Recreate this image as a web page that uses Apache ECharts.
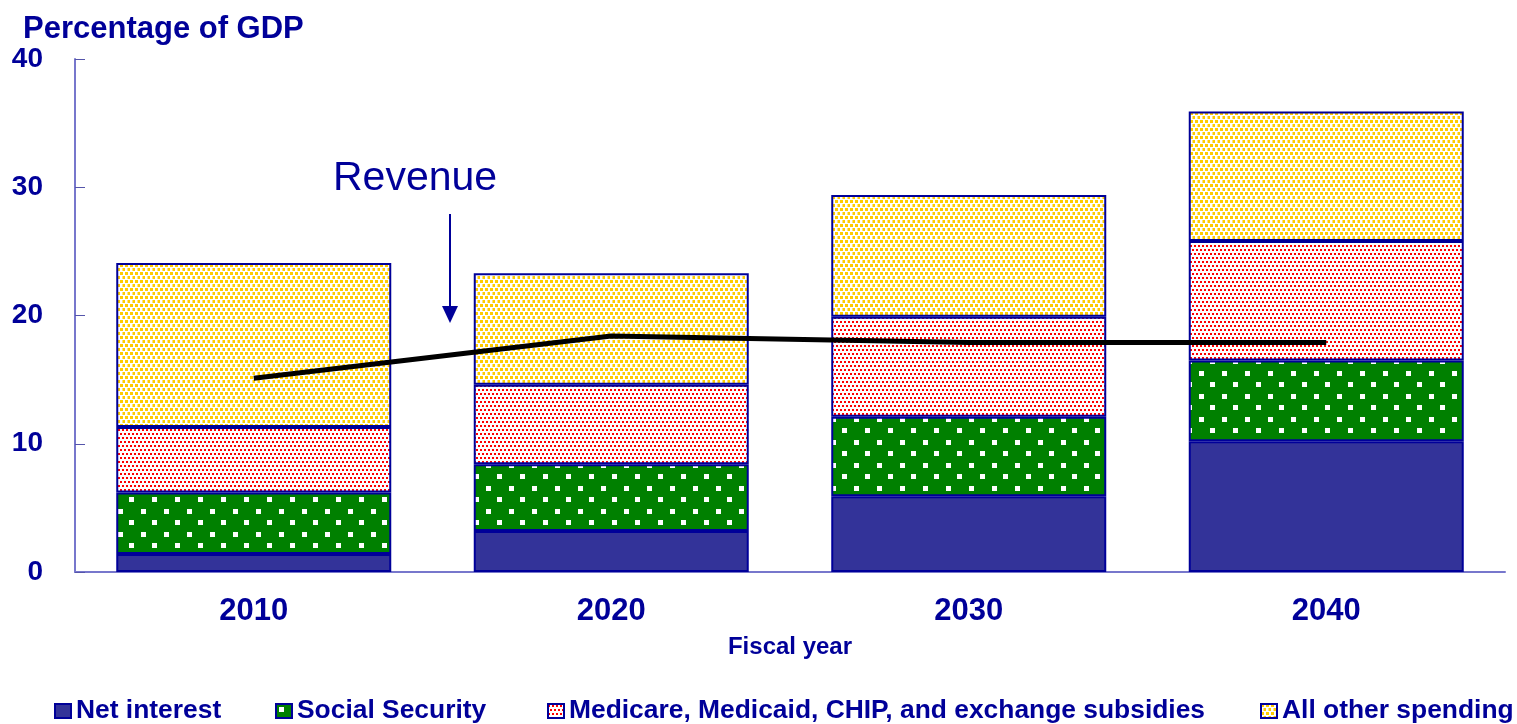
<!DOCTYPE html>
<html>
<head>
<meta charset="utf-8">
<script src="https://cdn.jsdelivr.net/npm/echarts@6/dist/echarts.min.js"></script>
<style>
  html, body { margin: 0; padding: 0; background: #fff; }
  #chart { width: 1517px; height: 724px; }
</style>
</head>
<body>
<div id="chart"></div>
<script>
const years = ['2010', '2020', '2030', '2040']
const netInterest = [1.4, 3.2, 5.9, 10.2]
const socialSecurity = [4.8, 5.2, 6.2, 6.3]
const healthCare = [5.1, 6.2, 7.8, 9.3]
const otherSpending = [12.8, 8.7, 9.5, 10.1]
const revenue = [15.1, 18.4, 17.9, 17.9]
const yTicks = [0, 10, 20, 30, 40]

const NAVY = '#000099'
const FONT = '"Liberation Sans", Arial, sans-serif'

// small canvas tiles used as repeating fills
function tile(w, h, bg, fg, dots, size) {
  const c = document.createElement('canvas')
  c.width = w
  c.height = h
  const ctx = c.getContext('2d')
  ctx.fillStyle = bg
  ctx.fillRect(0, 0, w, h)
  ctx.fillStyle = fg
  dots.forEach(([x, y]) => ctx.fillRect(x, y, size, size))
  return { image: c, repeat: 'repeat' }
}

const greenFill = tile(23, 23, '#008000', '#ffffff', [[3, 3], [14, 14]], 5)
const redFill = tile(4, 8, '#ffffff', '#ff0000', [[0, 1], [2, 5]], 2)
const yellowFill = tile(5, 8, '#ffffff', '#ffcc00', [[0, 0], [2.5, 4]], 3)

const chart = echarts.init(document.getElementById('chart'))

function barSeries(name, data, color) {
  return {
    name,
    type: 'bar',
    stack: 'spend',
    barWidth: 275,
    data,
    itemStyle: { color, borderColor: NAVY, borderWidth: 2 },
    emphasis: { disabled: true },
  }
}

const legendText = { color: NAVY, fontSize: 26.4, fontWeight: 'bold', fontFamily: FONT }
function legendAt(name, left) {
  return {
    data: [name],
    left,
    top: 698,
    padding: 0,
    itemWidth: 16,
    itemHeight: 14,
    icon: 'rect',
    textStyle: legendText,
    selectedMode: false,
  }
}

chart.setOption({
  backgroundColor: '#fff',
  animation: false,
  title: {
    text: 'Percentage of GDP',
    left: 18,
    top: 9,
    textStyle: { color: NAVY, fontSize: 31, fontWeight: 'bold', fontFamily: FONT },
  },
  legend: [
    legendAt('Net interest', 54),
    legendAt('Social Security', 275),
    legendAt('Medicare, Medicaid, CHIP, and exchange subsidies', 547),
    legendAt('All other spending', 1260),
  ],
  grid: { left: 75, right: 12, top: 59, bottom: 152 },
  xAxis: {
    type: 'category',
    data: years,
    name: 'Fiscal year',
    nameLocation: 'middle',
    nameGap: 63,
    nameTextStyle: { color: NAVY, fontSize: 24, fontWeight: 'bold', fontFamily: FONT },
    axisLine: { lineStyle: { color: '#7777cc', width: 2 } },
    axisTick: { inside: true, length: 10, interval: 0, lineStyle: { color: '#5555aa' } },
    axisLabel: { color: NAVY, fontSize: 31, fontWeight: 'bold', fontFamily: FONT, margin: 24 },
  },
  yAxis: {
    type: 'value',
    min: yTicks[0],
    max: yTicks[yTicks.length - 1],
    interval: 10,
    splitLine: { show: false },
    axisLine: { show: true, lineStyle: { color: '#7777cc', width: 2 } },
    axisTick: { show: true, inside: true, length: 10, lineStyle: { color: '#5555aa' } },
    axisLabel: { color: NAVY, fontSize: 28, fontWeight: 'bold', fontFamily: FONT, margin: 32 },
  },
  series: [
    barSeries('Net interest', netInterest, '#333399'),
    barSeries('Social Security', socialSecurity, greenFill),
    barSeries('Medicare, Medicaid, CHIP, and exchange subsidies', healthCare, redFill),
    barSeries('All other spending', otherSpending, yellowFill),
    {
      name: 'Revenue',
      type: 'line',
      data: revenue,
      symbol: 'none',
      lineStyle: { color: '#000', width: 5 },
      z: 5,
    },
  ],
  graphic: [
    {
      type: 'text',
      left: 333,
      top: 158,
      style: { text: 'Revenue', fill: NAVY, fontSize: 41, fontFamily: FONT },
    },
    {
      type: 'line',
      shape: { x1: 450, y1: 214, x2: 450, y2: 308 },
      style: { stroke: NAVY, lineWidth: 2 },
    },
    {
      type: 'polygon',
      shape: { points: [[442, 306], [458, 306], [450, 323]] },
      style: { fill: NAVY },
    },
  ],
})
</script>
</body>
</html>
